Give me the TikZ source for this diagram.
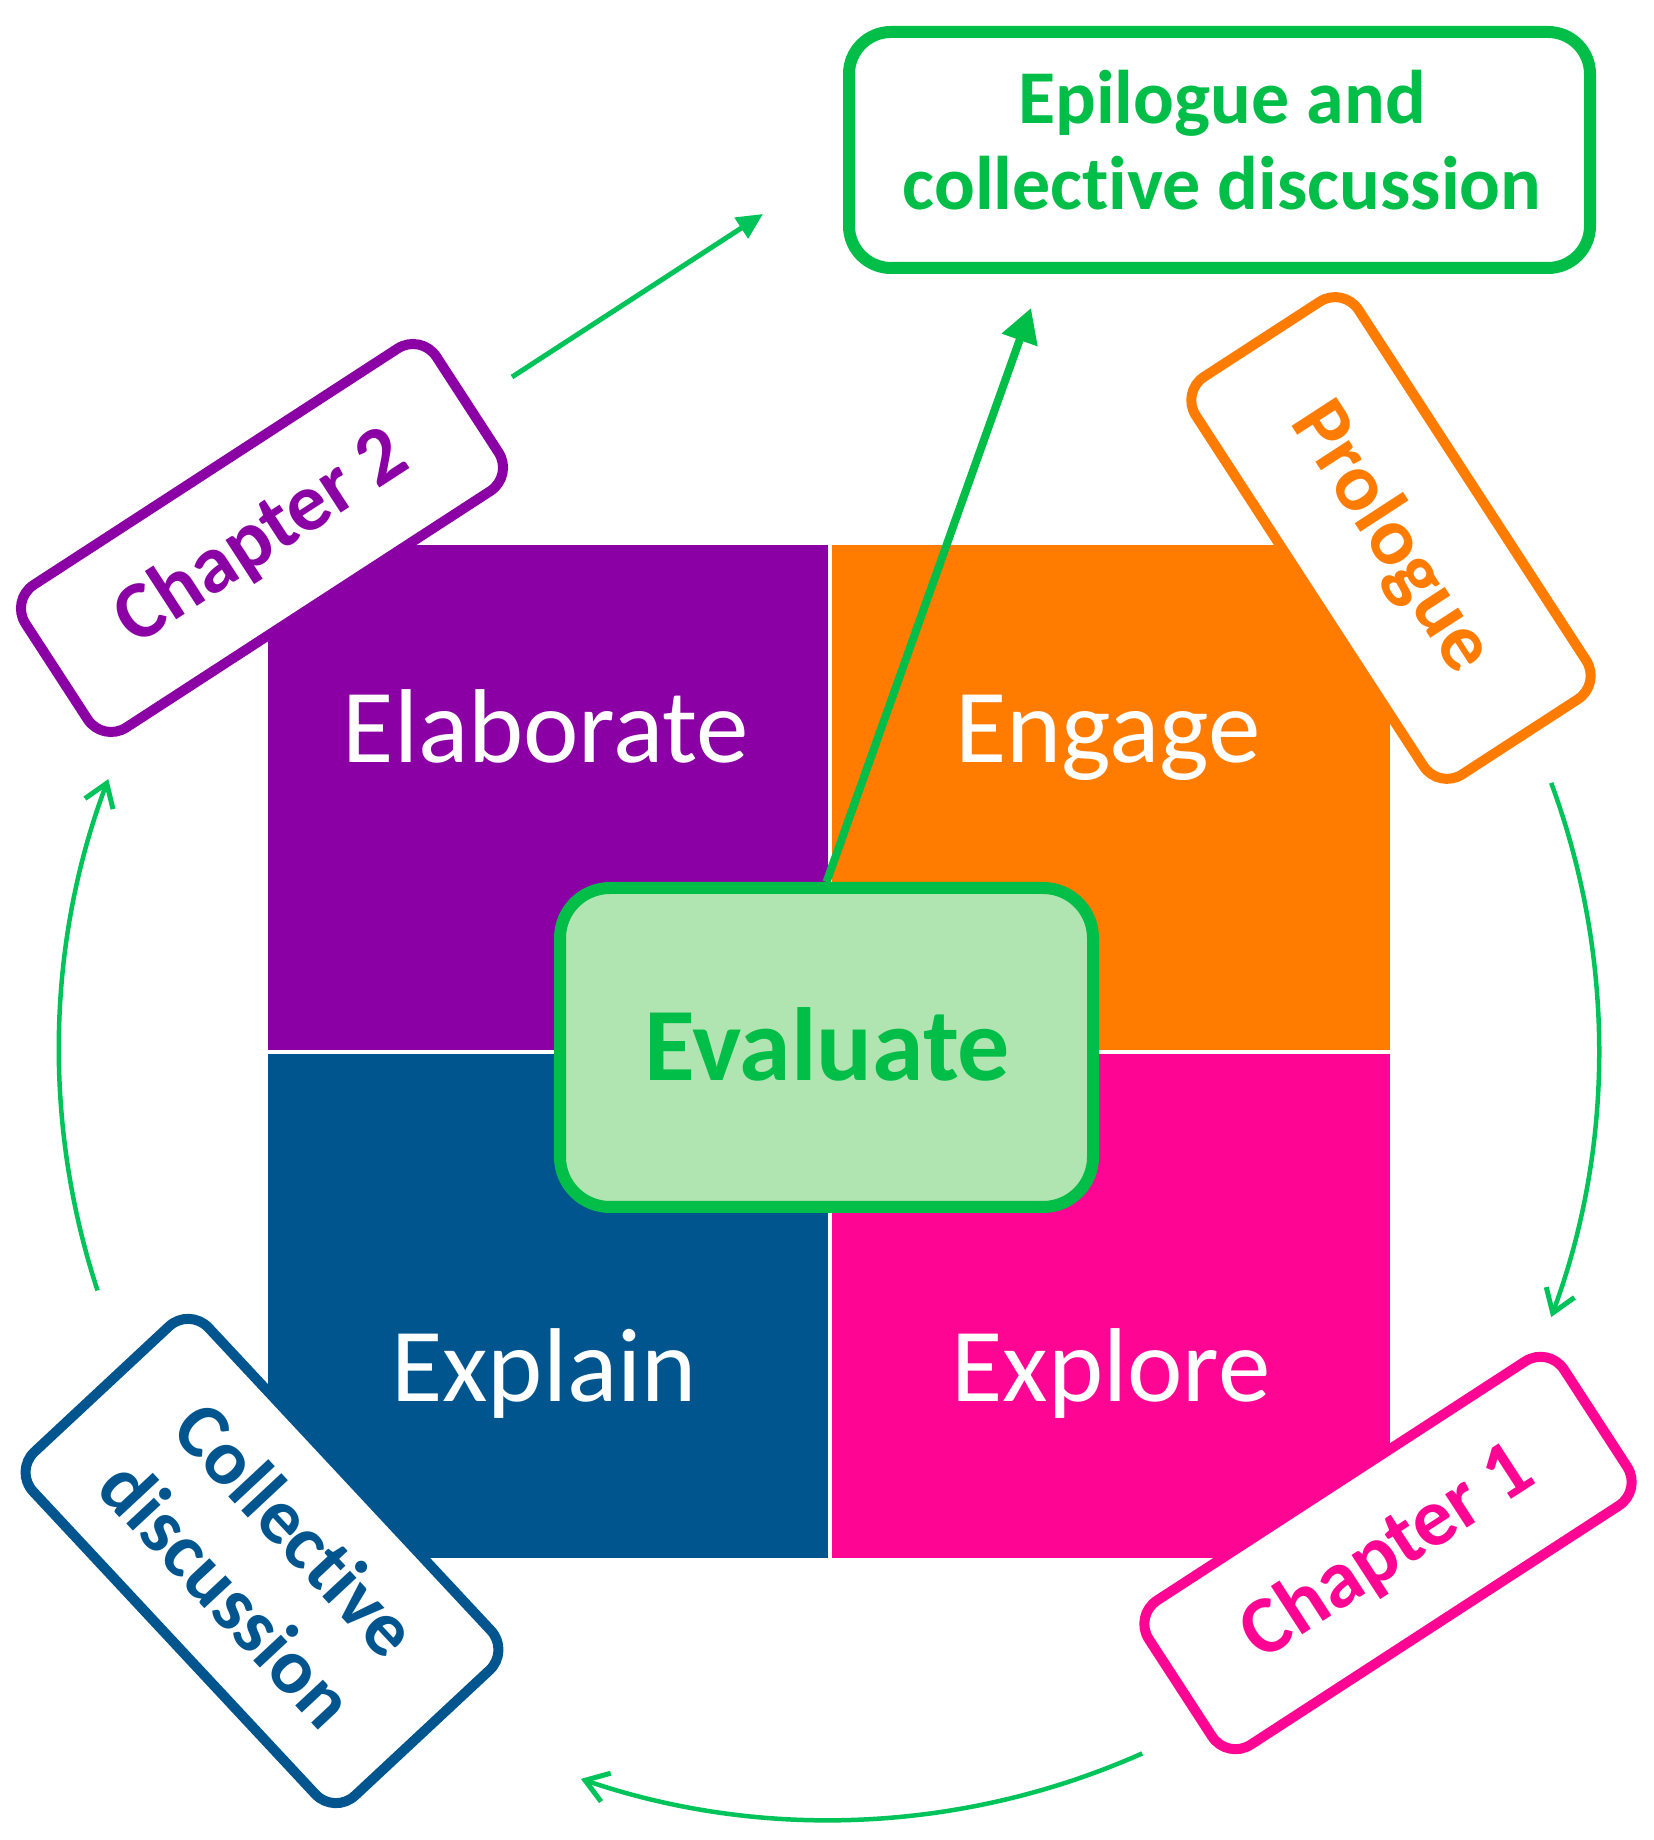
\documentclass[tikz,border=0pt]{standalone}
\usepackage{fontspec}
\setmainfont[Ligatures=NoCommon]{Carlito}
\usetikzlibrary{arrows.meta}
\definecolor{purp}{HTML}{8A00A4}
\definecolor{oran}{HTML}{FF7C00}
\definecolor{dblue}{HTML}{00558F}
\definecolor{pink}{HTML}{FF0593}
\definecolor{grn}{HTML}{00BE48}
\definecolor{lgrn}{HTML}{B0E4B0}
\definecolor{agrn}{HTML}{00C35A}
\tikzset{
  quad/.style={inner sep=0pt, text=white, font=\fontsize{105}{110}\selectfont},
  sidebox/.style={draw, line width=10pt, fill=white, rounded corners=28pt, inner sep=0pt,
     align=center, font=\bfseries\fontsize{82}{92}\selectfont},
  bigbox/.style={draw=grn, line width=12pt, rounded corners=42pt, inner sep=0pt, align=center, text=grn},
  thinarrow/.style={draw=agrn, line width=4.5pt, -{Straight Barb[length=22pt,width=30pt,line width=5pt]}},
  tri/.style={draw=agrn, line width=5pt, -{Triangle[length=26pt,width=24pt]}},
}
\begin{document}
\begin{tikzpicture}[x=1pt,y=1pt]
\useasboundingbox (0,0) rectangle (1654,1840);
% quadrants
\fill[purp] (268,790) rectangle (828,1295);
\fill[oran] (832,790) rectangle (1390,1295);
\fill[dblue] (268,282) rectangle (828,786);
\fill[pink] (832,282) rectangle (1390,786);
\node[quad, anchor=base] (elab) at (546,1077) {Elaborate};
\node[quad, anchor=base] (enga) at (1108,1077) {Engage};
\node[quad, anchor=base] (expla) at (544,438) {Explain};
\node[quad, anchor=base] (explo) at (1111,438) {Explore};
% side boxes
\node[sidebox, draw=purp, text=purp, minimum width=490pt, minimum height=170pt, rotate=33] (ch2) at (262,1302) {Chapter 2};
\node[sidebox, draw=oran, text=oran, minimum width=474pt, minimum height=194pt, rotate=-57] (prol) at (1391,1302) {Prologue};
\node[sidebox, draw=pink, text=pink, minimum width=495pt, minimum height=172pt, rotate=33] (ch1) at (1388,287) {Chapter 1};
\node[sidebox, draw=dblue, text=dblue, minimum width=470pt, minimum height=240pt, rotate=-47, font=\bfseries\fontsize{78}{94}\selectfont] (coll) at (262,279) {Collective\\discussion};
% epilogue
\node[bigbox, fill=white, minimum width=741pt, minimum height=236pt] (epi) at (1219.5,1690) {};
\node[text=grn, inner sep=0pt, align=center, font=\bfseries\fontsize{76}{86}\selectfont] (epitxt) at (1222,1700) {Epilogue and\\collective discussion};
% evaluate
\node[bigbox, fill=lgrn, rounded corners=50pt, minimum width=533pt, minimum height=319pt] (eval) at (826.5,792.5) {};
\node[text=grn, inner sep=0pt, anchor=base, font=\bfseries\fontsize{104}{110}\selectfont] (evaltxt) at (827,759) {Evaluate};
% arrows
\coordinate (a1s) at (512,1463);
\coordinate (a1e) at (763,1626);
\draw[tri] (a1s) -- (a1e);
\coordinate (a2e) at (1031,1532);
\draw[draw=grn, line width=8pt, -{Triangle[length=34pt,width=36pt]}] (eval.north) -- (a2e);
\coordinate (c3s) at ({829+770*cos(20.3)},{790+770*sin(20.3)});
\coordinate (c4s) at ({829+770*cos(-66)},{790+770*sin(-66)});
\coordinate (c5s) at ({829+770*cos(198.2)},{790+770*sin(198.2)});
\draw[thinarrow] (c3s) arc[start angle=20.3, end angle=-20.3, radius=770];
\draw[thinarrow] (c4s) arc[start angle=-66, end angle=-108.8, radius=770];
\draw[thinarrow] (c5s) arc[start angle=198.2, end angle=159.4, radius=770];
\end{tikzpicture}
\end{document}
